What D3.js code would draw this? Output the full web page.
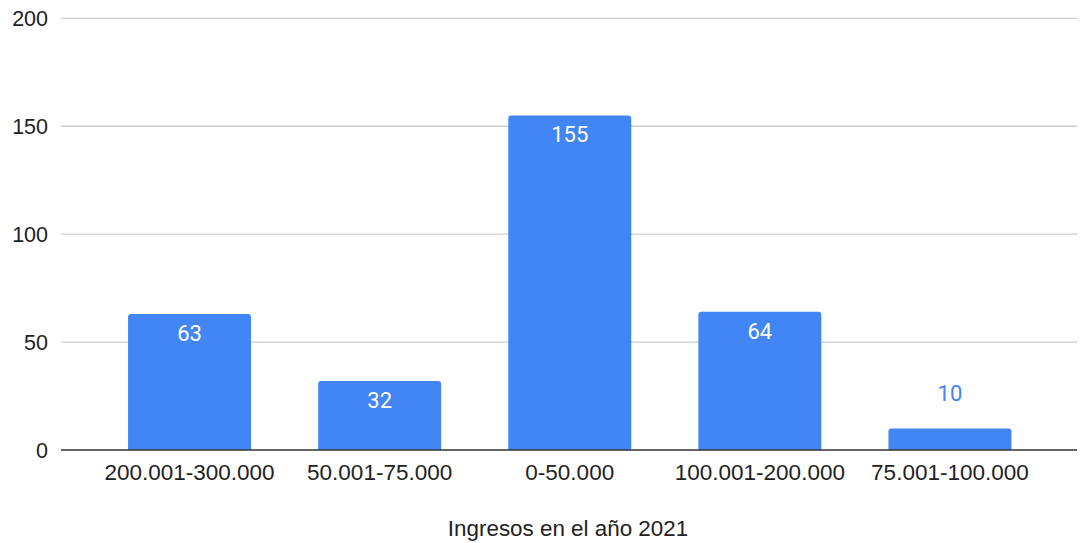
<!DOCTYPE html>
<html>
<head>
<meta charset="utf-8">
<script src="https://cdn.jsdelivr.net/npm/d3@7"></script>
<style>
  html, body { margin: 0; padding: 0; background: #fff; }
  svg { display: block; }
</style>
</head>
<body>
<svg id="chart" width="1083" height="543"></svg>
<script>
// Income brackets and respondent counts
const categories = ["200.001-300.000", "50.001-75.000", "0-50.000", "100.001-200.000", "75.001-100.000"];
const counts = [63, 32, 155, 64, 10];
const yTicks = [0, 50, 100, 150, 200];
const xTitle = "Ingresos en el año 2021";

const W = 1083, H = 543;
const gridLeft = 61, gridRight = 1077;
const plotTop = 18.3, plotBottom = 450;
const barColor = "#4285f4";
const axisFont = "Arial, 'Liberation Sans', sans-serif";
const labelFont = "Roboto, Arial, sans-serif";

const svg = d3.select("#chart");

const x = d3.scaleBand()
  .domain(categories)
  .range([94.5, 1045])
  .paddingInner(0.353)
  .paddingOuter(0.1765);

const y = d3.scaleLinear().domain([0, 200]).range([plotBottom, plotTop]);

// Horizontal gridlines
svg.append("g").selectAll("line")
  .data(yTicks.filter(d => d !== 0))
  .join("line")
  .attr("x1", gridLeft).attr("x2", gridRight)
  .attr("y1", d => y(d)).attr("y2", d => y(d))
  .attr("stroke", "#cccccc").attr("stroke-width", 1.3);

// Y tick labels
svg.append("g").selectAll("text")
  .data(yTicks)
  .join("text")
  .attr("x", 48).attr("y", d => y(d) + 8)
  .attr("text-anchor", "end")
  .attr("font-family", axisFont).attr("font-size", 21.5)
  .attr("fill", "#222")
  .text(d => d);

// Bars with rounded top corners
const r = 3;
function barPath(d, i) {
  const x0 = x(categories[i]), w = x.bandwidth();
  const yt = y(d), yb = y(0);
  return `M${x0},${yb}V${yt + r}Q${x0},${yt} ${x0 + r},${yt}H${x0 + w - r}Q${x0 + w},${yt} ${x0 + w},${yt + r}V${yb}Z`;
}
svg.append("g").selectAll("path")
  .data(counts)
  .join("path")
  .attr("d", (d, i) => barPath(d, i))
  .attr("fill", barColor);

// Baseline
svg.append("line")
  .attr("x1", gridLeft).attr("x2", gridRight)
  .attr("y1", y(0)).attr("y2", y(0))
  .attr("stroke", "#333").attr("stroke-width", 1.5);

// Value labels: inside the bar when it is tall enough, above it otherwise
svg.append("g").selectAll("text")
  .data(counts)
  .join("text")
  .attr("x", (d, i) => x(categories[i]) + x.bandwidth() / 2)
  .attr("y", d => (y(0) - y(d) > 40) ? y(d) + 27 : y(d) - 27)
  .attr("text-anchor", "middle")
  .attr("font-family", labelFont).attr("font-size", 22)
  .attr("fill", d => (y(0) - y(d) > 40) ? "#ffffff" : barColor)
  .text(d => d);

// X tick labels
svg.append("g").selectAll("text")
  .data(categories)
  .join("text")
  .attr("x", d => x(d) + x.bandwidth() / 2)
  .attr("y", 480)
  .attr("text-anchor", "middle")
  .attr("font-family", axisFont).attr("font-size", 22.5)
  .attr("fill", "#222")
  .text(d => d);

// Axis title
svg.append("text")
  .attr("x", 568).attr("y", 536)
  .attr("text-anchor", "middle")
  .attr("font-family", axisFont).attr("font-size", 22.4)
  .attr("fill", "#222")
  .text(xTitle);
</script>
</body>
</html>
